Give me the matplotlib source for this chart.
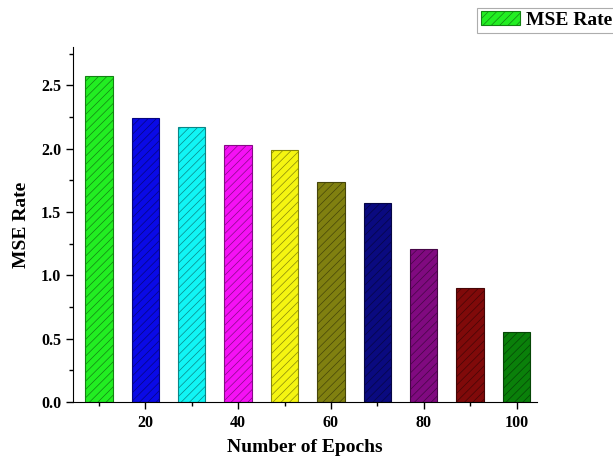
import matplotlib
matplotlib.use("Agg")
import matplotlib.pyplot as plt
from matplotlib.ticker import MultipleLocator
import matplotlib.colors as mcolors

epochs = [10, 20, 30, 40, 50, 60, 70, 80, 90, 100]
mse = [2.57, 2.24, 2.17, 2.03, 1.99, 1.74, 1.57, 1.21, 0.90, 0.55]
colors = ["#22ee22", "#0a0ae6", "#11f5f5", "#f511f5", "#f5f511",
          "#808010", "#0a0a80", "#800a80", "#800a0a", "#0a800a"]
xticks = [20, 40, 60, 80, 100]

plt.rcParams['font.family'] = ['Liberation Serif', 'DejaVu Serif']
plt.rcParams['font.weight'] = 'bold'
plt.rcParams['hatch.linewidth'] = 0.5

fig = plt.figure(figsize=(6.13, 4.58), dpi=100)
ax = fig.add_axes([0.119, 0.122, 0.757, 0.775])

bars = []
for x, v, c in zip(epochs, mse, colors):
    rgb = mcolors.to_rgb(c)
    edge = tuple(0.55 * ch for ch in rgb)
    b = ax.bar(x, v, width=5.9, color=c, edgecolor=edge, hatch='////', linewidth=0.8)
    bars.append(b)

ax.set_xlim(4.4, 104.4)
ax.set_ylim(0, 2.8)
ax.set_xticks(xticks)
ax.xaxis.set_minor_locator(MultipleLocator(10))
ax.yaxis.set_major_locator(MultipleLocator(0.5))
ax.yaxis.set_minor_locator(MultipleLocator(0.25))
ax.yaxis.set_major_formatter(matplotlib.ticker.FormatStrFormatter('%.1f'))
ax.tick_params(which='both', direction='out', labelsize=11.5)
ax.tick_params(axis='x', which='both', pad=4)
ax.tick_params(which='major', length=5, width=1)
ax.tick_params(which='minor', length=3, width=1)
for lab in ax.get_xticklabels() + ax.get_yticklabels():
    lab.set_fontweight('bold')
ax.spines['top'].set_visible(False)
ax.spines['right'].set_visible(False)
ax.set_xlabel('Number of Epochs', fontsize=14, fontweight='bold', labelpad=6)
ax.set_ylabel('MSE Rate', fontsize=14, fontweight='bold', labelpad=8)

leg = fig.legend([bars[0]], ['MSE Rate'], loc='upper right', bbox_to_anchor=(1.012, 0.992),
                 fancybox=False, edgecolor='#999999', prop={'weight': 'bold', 'size': 14},
                 handlelength=2.0, handleheight=0.7, borderpad=0.2, handletextpad=0.35,
                 borderaxespad=0.2)
leg.get_frame().set_linewidth(0.8)

fig.savefig('out.png', dpi=100)
